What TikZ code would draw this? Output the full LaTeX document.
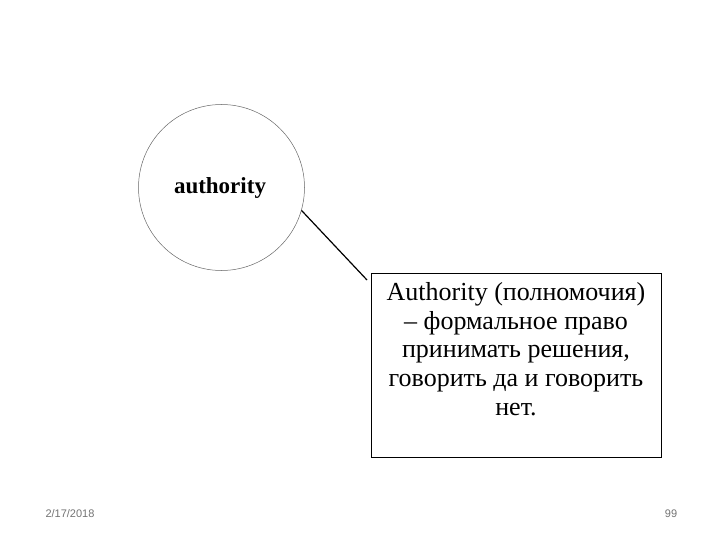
\documentclass[tikz,border=0pt]{standalone}
\usepackage{fontspec}
\setmainfont{Liberation Serif}
\newfontfamily\footfont{Liberation Sans}
\begin{document}
\begin{tikzpicture}[x=1pt,y=-1pt,
  bubble/.style={circle, draw=black!60, line width=0.5pt, minimum size=166pt, inner sep=0pt},
  notebox/.style={draw=black, line width=0.8pt, minimum width=290pt, minimum height=184pt, inner sep=0pt, anchor=north west},
  foot/.style={font=\footfont\fontsize{11}{12}\selectfont, text=black!55}]
\useasboundingbox (0,0) rectangle (720,540);
\node[bubble] (c) at (221.5,187.5) {};
\node[font=\bfseries\fontsize{23}{25}\selectfont] (ct) at (220,188) {authority};
\node[notebox] (b) at (371,273) {};
\node[align=center, font=\fontsize{26}{28.8}\selectfont, anchor=north, inner sep=0pt] (bt) at (516,282)
  {Authority (полномочия)\\– формальное право\\принимать решения,\\говорить да и говорить\\нет.};
\coordinate (e) at (367,280);
\draw[line width=1.2pt] (c.-16) -- (e);
\node[foot] (d) at (70,514) {2/17/2018};
\node[foot] (p) at (671,514) {99};
\end{tikzpicture}
\end{document}
